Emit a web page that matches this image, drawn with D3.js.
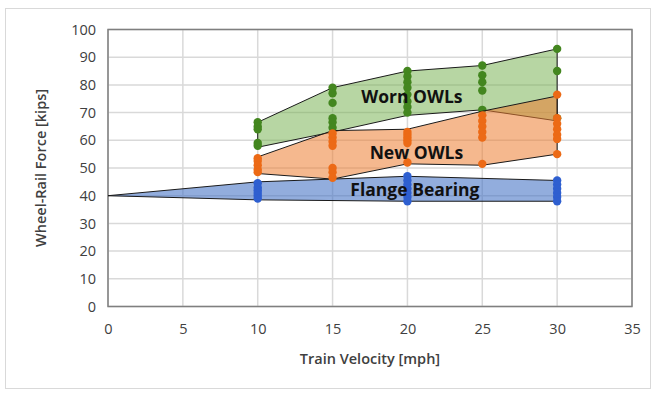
<!DOCTYPE html>
<html>
<head>
<meta charset="utf-8">
<script src="https://cdn.jsdelivr.net/npm/d3@7"></script>
<style>
  body { margin: 0; background: #fff; }
  svg { display: block; font-family: "Open Sans", "Liberation Sans", sans-serif; }
</style>
</head>
<body>
<div id="chart"></div>
<script>
// velocities [mph] and measured forces [kips]
const velocities = [10, 15, 20, 25, 30];
const xTicks = [0, 5, 10, 15, 20, 25, 30, 35];
const yTicks = [0, 10, 20, 30, 40, 50, 60, 70, 80, 90, 100];

const wornPoints = [
    [66.5, 65, 64, 59, 58],
    [79, 77, 73.5, 68, 66.5, 64.5],
    [85, 83, 81, 79, 76.5, 74, 72, 70],
    [87, 83.5, 81, 78, 71],
    [93, 85, 68]
];
const newPoints = [
    [53.5, 52.5, 51, 49.5, 48.5],
    [62.5, 61, 59.5, 58, 50, 48.5, 46.5],
    [63, 62, 61, 60, 59, 52],
    [69, 67, 65, 63, 61, 51.5],
    [76.5, 68, 66, 64, 62, 60.5, 55]
];
const flangeVelocities = [10, 20, 30];
const flangePoints = [
    [44.5, 43, 42, 41, 40, 39],
    [47, 45.5, 44, 42.5, 41, 39.5, 38],
    [45.5, 44, 42.5, 41, 39.5, 38]
];

// envelopes drawn as shaded bands
const wornUpper = [66.5, 79, 85, 87, 93];
const wornLower = [57.5, 63, 69, 71, 67];
const newUpper = [54, 63.5, 64, 70.5, 76];
const newLower = [48, 46, 51.5, 51, 55];
const flangeEnvX = [0, 10, 20, 30];
const flangeUpper = [40, 45, 47, 45.5];
const flangeLower = [40, 38.5, 38, 38];

const width = 656, height = 393;
const svg = d3.select("#chart").append("svg").attr("width", width).attr("height", height);

svg.append("rect").attr("x", 5.5).attr("y", 8.5).attr("width", 645).attr("height", 380)
    .attr("fill", "#fff").attr("stroke", "#d9d9d9");

const x = d3.scaleLinear().domain([0, 35]).range([108, 632]);
const y = d3.scaleLinear().domain([0, 100]).range([306.5, 29.5]);

// grid
svg.append("g").selectAll("line").data(yTicks).enter().append("line")
    .attr("x1", x(0)).attr("x2", x(35)).attr("y1", d => y(d)).attr("y2", d => y(d))
    .attr("stroke", "#d9d9d9").attr("stroke-width", 1.5);
svg.append("g").selectAll("line").data(xTicks).enter().append("line")
    .attr("y1", y(0)).attr("y2", y(100)).attr("x1", d => x(d)).attr("x2", d => x(d))
    .attr("stroke", "#d9d9d9").attr("stroke-width", 1.5);
svg.append("rect").attr("x", x(0)).attr("y", y(100)).attr("width", x(35) - x(0)).attr("height", y(0) - y(100))
    .attr("fill", "none").attr("stroke", "#7f7f7f").attr("stroke-width", 1.5);

// axes
const xAxis = svg.append("g").attr("transform", `translate(0,${y(0)})`)
    .call(d3.axisBottom(x).tickValues(xTicks).tickSize(0).tickPadding(17));
const yAxis = svg.append("g").attr("transform", `translate(${x(0)},0)`)
    .call(d3.axisLeft(y).tickValues(yTicks).tickSize(0).tickPadding(12));
[xAxis, yAxis].forEach(a => {
    a.select(".domain").remove();
    a.selectAll("text").attr("font-size", 14.5).attr("fill", "#404040")
        .attr("font-family", "'Open Sans', sans-serif");
});

svg.append("text").attr("x", (x(0) + x(35)) / 2).attr("y", 364).attr("text-anchor", "middle")
    .attr("font-size", 14.5).attr("font-weight", 600).attr("fill", "#404040").text("Train Velocity [mph]");
svg.append("text").attr("transform", `translate(46,${(y(0) + y(100)) / 2}) rotate(-90)`)
    .attr("text-anchor", "middle").attr("font-size", 14.5).attr("font-weight", 600).attr("fill", "#404040")
    .text("Wheel-Rail Force [kips]");

function band(xs, upper, lower) {
    const pts = xs.map((v, i) => [x(v), y(upper[i])]);
    for (let i = xs.length - 1; i >= 0; i--) pts.push([x(xs[i]), y(lower[i])]);
    return d3.line()(pts) + "Z";
}

function dots(xs, groups, color) {
    const flat = [];
    groups.forEach((g, i) => g.forEach(v => flat.push([xs[i], v])));
    svg.append("g").selectAll("circle").data(flat).enter().append("circle")
        .attr("cx", d => x(d[0])).attr("cy", d => y(d[1])).attr("r", 4.2).attr("fill", color);
}

svg.append("path").attr("d", band(flangeEnvX, flangeUpper, flangeLower))
    .attr("fill", "rgba(68,114,196,0.58)").attr("stroke", "#1a1a1a").attr("stroke-width", 1);
dots(flangeVelocities, flangePoints, "#2e5fd0");

svg.append("path").attr("d", band(velocities, wornUpper, wornLower))
    .attr("fill", "rgba(112,173,71,0.5)").attr("stroke", "#1a1a1a").attr("stroke-width", 1);
dots(velocities, wornPoints, "#43861f");

svg.append("path").attr("d", band(velocities, newUpper, newLower))
    .attr("fill", "rgba(237,125,49,0.55)").attr("stroke", "#1a1a1a").attr("stroke-width", 1);
dots(velocities, newPoints, "#ec6a16");

const labels = [
    { text: "Worn OWLs", v: 20.3, f: 75.5 },
    { text: "New OWLs", v: 20.6, f: 55.5 },
    { text: "Flange Bearing", v: 20.5, f: 42 }
];
svg.append("g").selectAll("text").data(labels).enter().append("text")
    .attr("x", d => x(d.v)).attr("y", d => y(d.f)).attr("dy", "0.35em").attr("text-anchor", "middle")
    .attr("font-size", 17.5).attr("font-weight", 700).attr("fill", "#111").text(d => d.text);
</script>
</body>
</html>
